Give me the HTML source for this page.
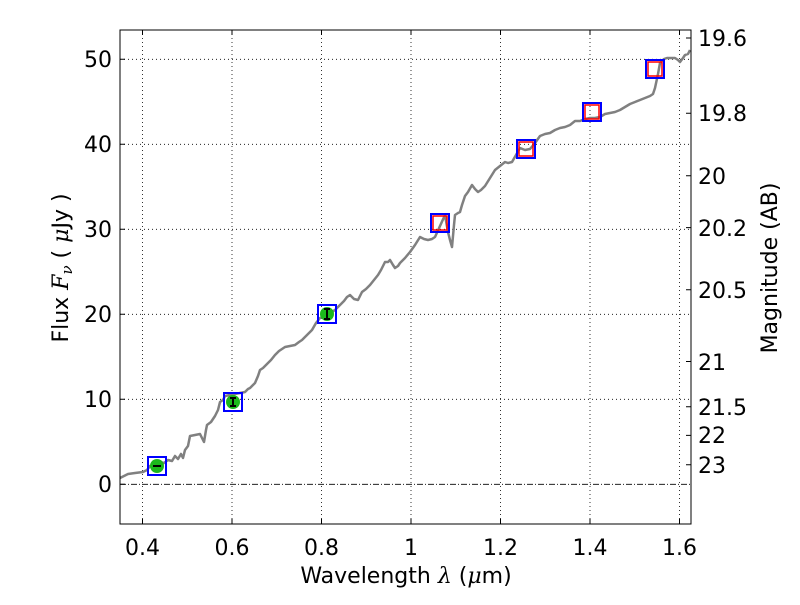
<!DOCTYPE html><html><head><style>body{margin:0;background:#fff}</style></head><body>
<svg width="800" height="600" xmlns="http://www.w3.org/2000/svg" font-family="DejaVu Sans, Liberation Sans, sans-serif">
<rect width="800" height="600" fill="#fff"/>
<g stroke="#000" stroke-width="0.8" stroke-dasharray="1,3">
<line x1="142.5" y1="30" x2="142.5" y2="524"/><line x1="232" y1="30" x2="232" y2="524"/><line x1="321.5" y1="30" x2="321.5" y2="524"/><line x1="411" y1="30" x2="411" y2="524"/><line x1="500.5" y1="30" x2="500.5" y2="524"/><line x1="590" y1="30" x2="590" y2="524"/><line x1="679.5" y1="30" x2="679.5" y2="524"/>
<line x1="120" y1="399.3" x2="691" y2="399.3"/><line x1="120" y1="314.3" x2="691" y2="314.3"/><line x1="120" y1="229.3" x2="691" y2="229.3"/><line x1="120" y1="144.3" x2="691" y2="144.3"/><line x1="120" y1="59.3" x2="691" y2="59.3"/>
</g>
<line x1="120" y1="484.3" x2="691" y2="484.3" stroke="#000" stroke-width="0.8" stroke-dasharray="6,2,1,2"/>
<polyline fill="none" stroke="#808080" stroke-width="2.5" stroke-linejoin="round" points="120,478 124,476 128,474 135,473 143,472 147,470 150,466 155,465 160,462 164,463 168,460 172,461 175,456 178,459 181,454 183,458 185,450 188,446 190,436 195,435 200,434 202,438 204,442 206,430 207,425 211,422 215,416 218,410 220,402 223,400 225,396 230,395 235,394 240,393 245,392 248,389 250,388 253,385 255,383 258,376 260,370 263,368 265,366 268,363 271,360 275,355 279,351 282,349 285,347 290,346 295,345 299,342 302,340 305,337 309,333 312,330 316,323 320,318 325,316 330,313 335,310 340,305 344,301 347,297 350,295 354,299 358,300 360,296 362,292 366,289 370,285 374,280 378,275 381,270 385,262 388,262 390,260 393,265 395,268 398,266 400,263 405,258 410,252 415,245 420,237 424,239 428,240 432,239 435,237 440,226 445,215 448,232 450,240 452,247 454,225 455,215 458,213 460,212 462,205 465,196 468,192 472,185 475,189 478,192 481,190 485,186 490,178 495,170 500,166 505,162 508,163 512,162 516,155 520,148 525,150 530,149 535,143 540,136 545,134 550,133 555,130 560,128 565,127 570,125 575,121 580,121 585,119 590,118 595,118 600,117 605,114 610,113 615,112 620,110 625,107 630,104 635,102 640,100 645,98 650,96 653,94 655,88 658,74 660,63 664,59 667,58 671,58 675,58 678,60 680,62 683,58 685,55 688,54 690,50"/>
<g fill="#1cb81c"><circle cx="157" cy="466" r="7"/><circle cx="233" cy="402" r="7"/><circle cx="327" cy="314" r="7"/></g>
<g stroke="#000" stroke-width="2"><line x1="153" y1="466" x2="161" y2="466"/><line x1="233" y1="398" x2="233" y2="406"/><line x1="230" y1="398" x2="236" y2="398"/><line x1="230" y1="406" x2="236" y2="406"/><line x1="327" y1="309" x2="327" y2="319"/><line x1="324" y1="309" x2="330" y2="309"/><line x1="324" y1="319" x2="330" y2="319"/></g>
<g fill="none" stroke="red" stroke-width="1.5"><rect x="433" y="216" width="14" height="14"/><rect x="519" y="142" width="14" height="14"/><rect x="585" y="105" width="14" height="14"/><rect x="648" y="62" width="14" height="14"/></g>
<g fill="none" stroke="#00f" stroke-width="2"><rect x="148" y="457" width="18" height="18"/><rect x="224" y="393" width="18" height="18"/><rect x="318" y="305" width="18" height="18"/><rect x="431" y="214" width="18" height="18"/><rect x="517" y="140" width="18" height="18"/><rect x="583" y="103" width="18" height="18"/><rect x="646" y="60" width="18" height="18"/></g>
<rect x="120" y="30" width="571" height="494" fill="none" stroke="#000" stroke-width="1"/>
<g stroke="#000" stroke-width="1">
<path d="M142.5 524v-5M232 524v-5M321.5 524v-5M411 524v-5M500.5 524v-5M590 524v-5M679.5 524v-5M142.5 30v5M232 30v5M321.5 30v5M411 30v5M500.5 30v5M590 30v5M679.5 30v5"/>
<path d="M120 484.3h5M120 399.3h5M120 314.3h5M120 229.3h5M120 144.3h5M120 59.3h5"/>
<path d="M691 38h-5M691 113.3h-5M691 175.7h-5M691 227.6h-5M691 289.7h-5M691 361.5h-5M691 406.8h-5M691 435.4h-5M691 464.8h-5"/>
</g>
<g font-size="22" text-anchor="middle">
<text x="142.5" y="555">0.4</text><text x="232" y="555">0.6</text><text x="321.5" y="555">0.8</text><text x="411" y="555">1</text><text x="500.5" y="555">1.2</text><text x="590" y="555">1.4</text><text x="679.5" y="555">1.6</text>
</g>
<g font-size="22" text-anchor="end">
<text x="112" y="492">0</text><text x="112" y="407">10</text><text x="112" y="322">20</text><text x="112" y="237">30</text><text x="112" y="152">40</text><text x="112" y="67">50</text>
</g>
<g font-size="22">
<text x="698" y="46">19.6</text><text x="698" y="121">19.8</text><text x="698" y="184">20</text><text x="698" y="236">20.2</text><text x="698" y="298">20.5</text><text x="698" y="370">21</text><text x="698" y="415">21.5</text><text x="698" y="443">22</text><text x="698" y="473">23</text>
</g>
<text x="406" y="583" font-size="22" text-anchor="middle">Wavelength  <tspan font-style="italic" font-family="DejaVu Serif, serif">λ</tspan> (<tspan font-style="italic" font-family="DejaVu Serif, serif">μ</tspan>m)</text>
<text transform="translate(68,268) rotate(-90)" font-size="22" text-anchor="middle">Flux  <tspan font-style="italic" font-family="DejaVu Serif, serif">F<tspan font-size="15" dy="4">ν</tspan></tspan><tspan dy="-4">  ( </tspan><tspan font-style="italic" font-family="DejaVu Serif, serif">μ</tspan>Jy )</text>
<text transform="translate(777,268) rotate(-90)" font-size="22" text-anchor="middle">Magnitude (AB)</text>
</svg>
</body></html>
